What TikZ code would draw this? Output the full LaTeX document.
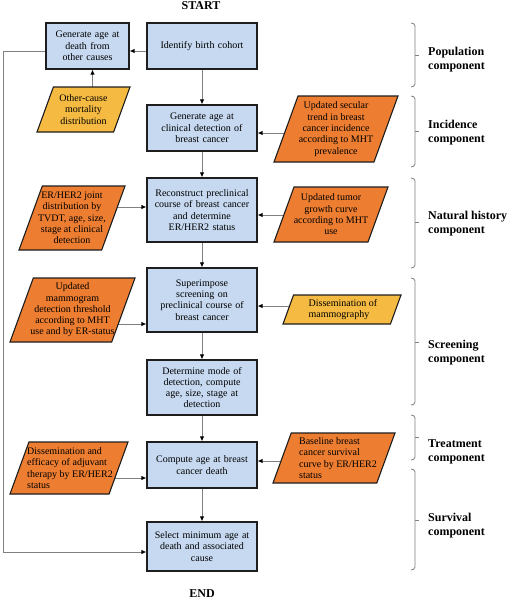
\documentclass[tikz,border=0pt]{standalone}
\usepackage{fontspec}
\setmainfont{Liberation Serif}
\usetikzlibrary{arrows.meta}
\pgfdeclarelayer{paper}
\pgfdeclarelayer{bg}
\pgfsetlayers{paper,bg,main}
\definecolor{boxblue}{RGB}{198,217,240}
\definecolor{porange}{RGB}{237,125,49}
\definecolor{pyellow}{RGB}{245,186,66}
\definecolor{edgec}{RGB}{30,30,30}
\definecolor{conn}{RGB}{128,128,128}
\newcommand\ppg[5]{%
 \filldraw[fill=#5, draw=edgec, line width=1.1pt, line join=miter]
  ({#1-#3/2},{#2+#4/2}) -- ({#1+#3/2-0.364*#4},{#2+#4/2}) -- ({#1+#3/2},{#2-#4/2}) -- ({#1-#3/2+0.364*#4},{#2-#4/2}) -- cycle;}
\newcommand\brk[3]{%
 \draw[bracket] (411,#1) to[out=0,in=90] (415,{#1+3}) -- (415,{#2-3}) to[out=-90,in=0] (411,#2);
 \draw[bracket] (415,#3) -- (419,#3);}
\begin{document}
\begin{tikzpicture}[x=1pt,y=-1pt,
  box/.style={draw=edgec, fill=boxblue, line width=1.1pt, minimum width=110pt, text width=104pt, align=center, inner sep=0pt, font=\fontsize{10}{11.3}\selectfont},
  ptext/.style={align=center, inner sep=0pt, font=\fontsize{10}{11.3}\selectfont},
  ptextl/.style={align=left, inner sep=0pt, font=\fontsize{10}{11.3}\selectfont},
  lbl/.style={anchor=west, align=left, inner sep=0pt, font=\fontsize{12}{14}\selectfont\bfseries},
  term/.style={inner sep=0pt, font=\fontsize{12}{14}\selectfont\bfseries},
  arr/.style={conn, line width=1pt, -{Latex[length=5pt,width=4.5pt,color=black]}},
  bracket/.style={conn, line width=0.8pt}]
\useasboundingbox (0,0) rectangle (508,600);
\begin{pgfonlayer}{paper}
\fill[white] (0,0) rectangle (508,600);
\end{pgfonlayer}

% terminals
\node[term] (start) at (201,6) {START};
\node[term] (end) at (202,594) {END};

% main column
\node[box, minimum height=46pt] (b1) at (202,46) {Identify birth cohort};
\node[box, minimum height=46pt] (b2) at (202,128) {Generate age at\\clinical detection of\\breast cancer};
\node[box, minimum height=64pt] (b3) at (202,210) {Reconstruct preclinical\\course of breast cancer\\and determine\\ER/HER2 status};
\node[box, minimum height=64pt] (b4) at (202,300) {Superimpose\\screening on\\preclinical course of\\breast cancer};
\node[box, minimum height=55pt] (b5) at (202,387.5) {Determine mode of\\detection, compute\\age, size, stage at\\detection};
\node[box, minimum height=46pt] (b6) at (202,465) {Compute age at breast\\cancer death};
\node[box, minimum height=49pt] (b7) at (202,546.5) {Select minimum age at\\death and associated\\cause};
\node[box, minimum width=83pt, text width=80pt, minimum height=46pt] (death) at (87.5,46) {Generate age at\\death from\\other causes};

% parallelograms
\ppg{83.5}{109.5}{93}{45}{pyellow}
\node[ptext] (mort) at (83.5,109.5) {Other-cause\\mortality\\distribution};
\ppg{336}{129}{124}{66}{porange}
\node[ptext] (inc) at (336,129) {Updated secular\\trend in breast\\cancer incidence\\according to MHT\\prevalence};
\ppg{72}{218}{106}{64}{porange}
\node[ptext] (erher) at (72,218) {ER/HER2 joint\\distribution by\\TVDT, age, size,\\stage at clinical\\detection};
\ppg{331}{214.5}{114}{55}{porange}
\node[ptext] (growth) at (331,214.5) {Updated tumor\\growth curve\\according to MHT\\use};
\ppg{72.5}{310}{125}{64}{porange}
\node[ptext] (thresh) at (72.5,310) {Updated\\mammogram\\detection threshold\\according to MHT\\use and by ER-status};
\ppg{342}{309.5}{118}{29}{pyellow}
\node[ptextl] (dissem) at (343,309.5) {Dissemination of\\mammography};
\ppg{69}{468}{118}{52}{porange}
\node[ptextl] (adj) at (70,468) {Dissemination and\\efficacy of adjuvant\\therapy by ER/HER2\\status};
\ppg{334}{458}{122}{50}{porange}
\node[ptextl] (base) at (338,458) {Baseline breast\\cancer survival\\curve by ER/HER2\\status};

% brackets and labels
\brk{23}{87}{55}
\node[lbl] (lpop) at (428,59.5) {Population\\component};
\brk{96}{167}{131}
\node[lbl] (linc) at (428,133) {Incidence\\component};
\brk{178}{268}{222}
\node[lbl] (lnat) at (428,223.5) {Natural history\\component};
\brk{278}{405}{342}
\node[lbl] (lscr) at (428,352.5) {Screening\\component};
\brk{415}{460}{437}
\node[lbl] (ltre) at (428,451.5) {Treatment\\component};
\brk{469}{570}{520}
\node[lbl] (lsur) at (428,525.5) {Survival\\component};

% connectors
\coordinate (lft) at (3,0);
\coordinate (b1w) at ([yshift=-5pt]b1.west);
\coordinate (dths) at ([xshift=5pt]death.south);
\coordinate (dthw) at ([yshift=-5pt]death.west);
\coordinate (b7w) at ([yshift=-5.5pt]b7.west);
\coordinate (b2e) at ([yshift=-5pt]b2.east);
\coordinate (b3w) at ([yshift=3pt]b3.west);
\coordinate (b3e) at ([yshift=-5pt]b3.east);
\coordinate (b4w) at ([yshift=-24pt]b4.west);
\coordinate (b4e) at ([yshift=-6pt]b4.east);
\coordinate (b6w) at ([yshift=-13pt]b6.west);
\coordinate (b6e) at ([yshift=4pt]b6.east);
\begin{pgfonlayer}{bg}
\draw[arr] (b1w) -- (b1w -| death.east);
\draw[arr] (dths |- mort.center) -- (dths);
\draw[arr] (dthw) -- (dthw -| lft) |- (b7w);
\draw[arr] (b1) -- (b2);
\draw[arr] (b2) -- (b3);
\draw[arr] (b3) -- (b4);
\draw[arr] (b4) -- (b5);
\draw[arr] (b5) -- (b6);
\draw[arr] (b6) -- (b7);
\draw[arr] (b2e -| inc.center) -- (b2e);
\draw[arr] (b3w -| erher.center) -- (b3w);
\draw[arr] (b3e -| growth.center) -- (b3e);
\draw[arr] (b4w -| thresh.center) -- (b4w);
\draw[arr] (b4e -| dissem.center) -- (b4e);
\draw[arr] (b6w -| adj.center) -- (b6w);
\draw[arr] (b6e -| base.center) -- (b6e);
\end{pgfonlayer}
\end{tikzpicture}
\end{document}
